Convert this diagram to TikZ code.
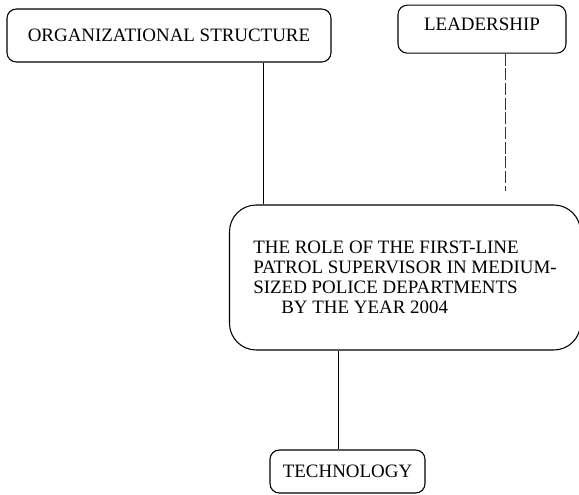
\documentclass[tikz,border=0pt]{standalone}
\usepackage{fontspec}
\setmainfont{Liberation Serif}
\usepackage{tikz}
\usetikzlibrary{shapes}

\begin{document}
\begin{tikzpicture}[x=0.75pt,y=-0.75pt,
	box/.style={rectangle,draw,line width=0.8pt,rounded corners=7pt,inner sep=0pt,font=\fontsize{14.2}{15}\selectfont},
	link/.style={line width=0.6pt}]

	\useasboundingbox (0,0) rectangle (579,495);

	\def\toplink{263}
	\def\botlink{338}

	\node[box,minimum width=243pt,minimum height=39.75pt] (org) at (169,35.5) {ORGANIZATIONAL STRUCTURE};
	\node[box,minimum width=126pt,text height=19pt,text depth=17pt,anchor=base] (lead) at (482,30.5) {LEADERSHIP};
	\node[box,rounded corners=20pt,minimum width=263.25pt,minimum height=108.75pt,align=left] (role) at (405,277.5)
		{THE ROLE OF THE FIRST-LINE\\PATROL SUPERVISOR IN MEDIUM-\\SIZED POLICE DEPARTMENTS\\\hspace*{21pt}BY THE YEAR 2004};
	\node[box,minimum width=116.25pt,minimum height=32.25pt] (tech) at (347.5,471.5) {TECHNOLOGY};

	\coordinate (o) at (\toplink,0);
	\coordinate (t) at (\botlink,0);
	\coordinate (l) at (505,191);

	\draw[link] (org.south -| o) -- (role.north -| o);
	\draw[line width=0.5pt,dash pattern=on 9pt off 2pt,black!80] (lead.south -| l) -- (l);
	\draw[link] (role.south -| t) -- (tech.north -| t);

\end{tikzpicture}
\end{document}
